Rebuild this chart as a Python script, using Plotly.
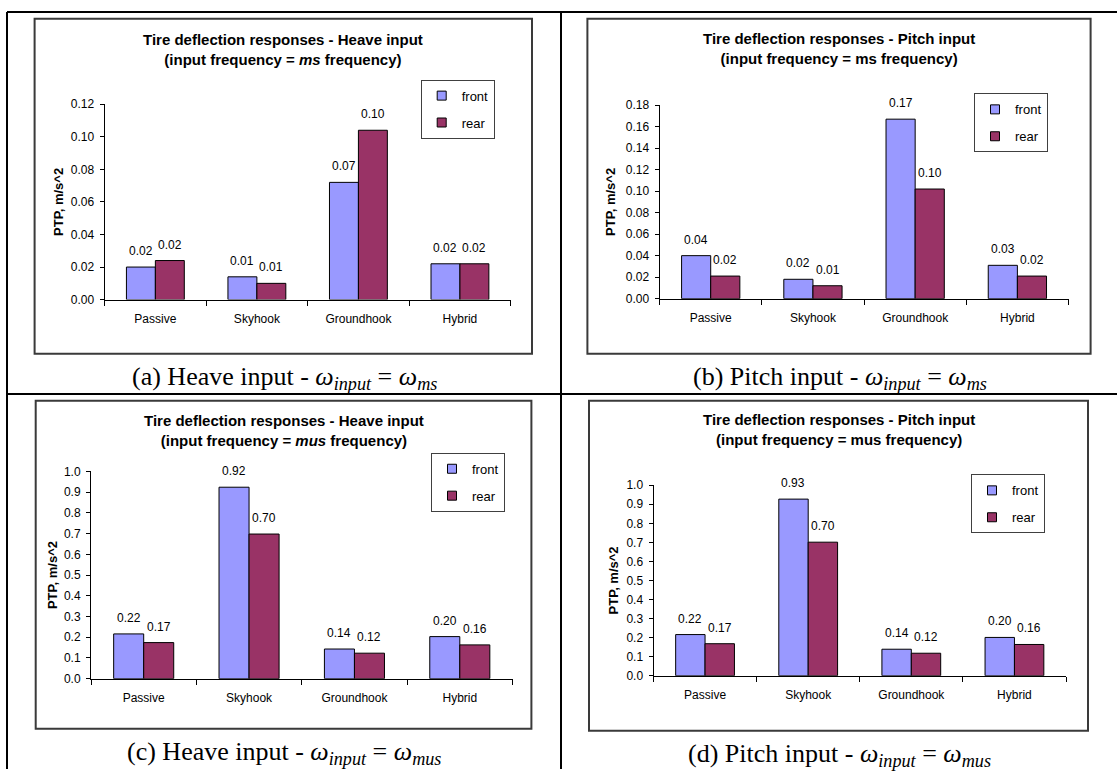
import plotly.graph_objects as go

FIG_W, FIG_H = 1117, 776

categories = ["Passive", "Skyhook", "Groundhook", "Hybrid"]
series_names = ["front", "rear"]

# Peak-to-peak tire deflection, heave input at sprung-mass (ms) frequency
heave_ms_front = [0.020, 0.014, 0.072, 0.022]
heave_ms_rear = [0.024, 0.010, 0.104, 0.022]
# Pitch input at sprung-mass (ms) frequency
pitch_ms_front = [0.040, 0.018, 0.167, 0.031]
pitch_ms_rear = [0.021, 0.012, 0.102, 0.021]
# Heave input at unsprung-mass (mus) frequency
heave_mus_front = [0.216, 0.924, 0.143, 0.203]
heave_mus_rear = [0.174, 0.698, 0.123, 0.163]
# Pitch input at unsprung-mass (mus) frequency
pitch_mus_front = [0.216, 0.927, 0.139, 0.201]
pitch_mus_rear = [0.168, 0.701, 0.118, 0.164]

ticks_heave_ms = [0.00, 0.02, 0.04, 0.06, 0.08, 0.10, 0.12]
ticks_pitch_ms = [0.00, 0.02, 0.04, 0.06, 0.08, 0.10, 0.12, 0.14, 0.16, 0.18]
ticks_mus = [0.0, 0.1, 0.2, 0.3, 0.4, 0.5, 0.6, 0.7, 0.8, 0.9, 1.0]

y_title = "PTP, m/s^2"

FRONT_COLOR = "#9999FF"
REAR_COLOR = "#993366"
BAR_GAP = 0.43
SANS = "Liberation Sans, Arial, sans-serif"
SERIF = "Liberation Serif, Times New Roman, serif"


def px(x):
    return x / FIG_W


def py(y):
    return 1 - y / FIG_H


panels = [
    dict(front=heave_ms_front, rear=heave_ms_rear, ticks=ticks_heave_ms, fmt=".2f",
         title="<b>Tire deflection responses - Heave input<br>(input frequency = <i>ms</i> frequency)</b>",
         caption="(a) Heave input - <i>ω<sub>input</sub></i> = <i>ω<sub>ms</sub></i>",
         plot=(104.6, 99, 510.7, 298), box=(34.6, 12, 532, 353),
         legend=(420.7, 74), title_y=43, caption_xy=(284, 378), ytitle_x=59),
    dict(front=pitch_ms_front, rear=pitch_ms_rear, ticks=ticks_pitch_ms, fmt=".2f",
         title="<b>Tire deflection responses - Pitch input<br>(input frequency = ms frequency)</b>",
         caption="(b) Pitch input - <i>ω<sub>input</sub></i> = <i>ω<sub>ms</sub></i>",
         plot=(659.6, 100, 1068.5, 297), box=(587.4, 12, 1090.6, 353),
         legend=(974, 88), title_y=42, caption_xy=(840, 378), ytitle_x=611),
    dict(front=heave_mus_front, rear=heave_mus_rear, ticks=ticks_mus, fmt=".1f",
         title="<b>Tire deflection responses - Heave input<br>(input frequency = <i>mus</i> frequency)</b>",
         caption="(c) Heave input - <i>ω<sub>input</sub></i> = <i>ω<sub>mus</sub></i>",
         plot=(91, 473, 512.5, 684), box=(35.7, 401, 531.4, 735),
         legend=(431, 454), title_y=431, caption_xy=(284, 760), ytitle_x=52),
    dict(front=pitch_mus_front, rear=pitch_mus_rear, ticks=ticks_mus, fmt=".1f",
         title="<b>Tire deflection responses - Pitch input<br>(input frequency = mus frequency)</b>",
         caption="(d) Pitch input - <i>ω<sub>input</sub></i> = <i>ω<sub>mus</sub></i>",
         plot=(653.5, 487, 1066, 681), box=(589, 401, 1088, 737),
         legend=(971, 476), title_y=430.5, caption_xy=(839, 762), ytitle_x=613),
]

fig = go.Figure()
annotations = []
shapes = []
layout_axes = {}

# table grid lines
for x0, y0, x1, y1 in [(7, 5, 1117, 5), (7, 5, 7, 776), (561, 5, 561, 776), (7, 394, 1117, 394)]:
    shapes.append(dict(type="line", xref="paper", yref="paper",
                       x0=px(x0), y0=py(y0), x1=px(x1), y1=py(y1),
                       line=dict(color="black", width=2)))

positions = list(range(len(categories)))
boundaries = [k - 0.5 for k in range(len(categories) + 1)]
offset = (1 - BAR_GAP) / 4

for i, p in enumerate(panels, start=1):
    sfx = "" if i == 1 else str(i)
    xa, ya = "x" + sfx, "y" + sfx
    leg = "legend" + sfx
    x0, y0, x1, y1 = p["plot"]

    for name, vals, color, shift in [("front", p["front"], FRONT_COLOR, -offset),
                                     ("rear", p["rear"], REAR_COLOR, offset)]:
        fig.add_trace(go.Bar(
            x=positions, y=vals, name=name, xaxis=xa, yaxis=ya,
            marker=dict(color=color, line=dict(color="black", width=1)),
            showlegend=False, hoverinfo="skip"))
        # legend swatch
        fig.add_trace(go.Scatter(
            x=[None], y=[None], mode="markers", name=name, xaxis=xa, yaxis=ya,
            legend=leg, legendgroup=name,
            marker=dict(symbol="square", size=9, color=color,
                        line=dict(color="black", width=1))))
        for k, v in enumerate(vals):
            annotations.append(dict(
                x=positions[k] + shift, y=v, xref=xa, yref=ya, text=f"{v:.2f}",
                showarrow=False, yshift=16,
                font=dict(family=SANS, size=12, color="black")))

    layout_axes["xaxis" + sfx] = dict(
        domain=[px(x0), px(x1)], anchor=ya, range=[-0.5, len(categories) - 0.5],
        tickmode="array", tickvals=positions, ticktext=categories, ticks="",
        minor=dict(tickmode="array", tickvals=boundaries, ticks="outside",
                   ticklen=5, tickcolor="black", tickwidth=1, showgrid=False),
        showline=True, linecolor="black", linewidth=1,
        showgrid=False, zeroline=False,
        tickfont=dict(family=SANS, size=12, color="black"),
        ticklabelstandoff=8, fixedrange=True)
    layout_axes["yaxis" + sfx] = dict(
        domain=[py(y1), py(y0)], anchor=xa, range=[0, p["ticks"][-1]],
        tickvals=p["ticks"], tickformat=p["fmt"],
        showline=True, linecolor="black", linewidth=1,
        ticks="outside", ticklen=4, tickcolor="black", tickwidth=1,
        showgrid=False, zeroline=False,
        tickfont=dict(family=SANS, size=12, color="black"),
        ticklabelstandoff=3, fixedrange=True)

    lx, ly = p["legend"]
    layout_axes[leg] = dict(
        x=px(lx), y=py(ly), xanchor="left", yanchor="top",
        xref="paper", yref="paper",
        bgcolor="white", bordercolor="#404040", borderwidth=1,
        font=dict(family=SANS, size=13, color="black"),
        traceorder="grouped", tracegroupgap=7, itemclick=False)

    bx0, by0, bx1, by1 = p["box"]
    shapes.append(dict(type="rect", xref="paper", yref="paper",
                       x0=px(bx0), y0=py(by1), x1=px(bx1), y1=py(by0),
                       line=dict(color="#3a3a3a", width=2), layer="below"))

    annotations.append(dict(
        x=px((bx0 + bx1) / 2), y=py(p["title_y"]), xref="paper", yref="paper",
        text=p["title"], showarrow=False, xanchor="center", yanchor="middle",
        font=dict(family=SANS, size=15, color="black")))
    annotations.append(dict(
        x=px(p["ytitle_x"]), y=py((y0 + y1) / 2), xref="paper", yref="paper",
        text="<b>" + y_title + "</b>", textangle=-90, showarrow=False,
        xanchor="center", yanchor="middle",
        font=dict(family=SANS, size=13, color="black")))
    cx, cy = p["caption_xy"]
    annotations.append(dict(
        x=px(cx), y=py(cy), xref="paper", yref="paper", text=p["caption"],
        showarrow=False, xanchor="center", yanchor="middle",
        font=dict(family=SERIF, size=26, color="black")))

fig.update_layout(
    width=FIG_W, height=FIG_H, autosize=False,
    margin=dict(l=0, r=0, t=0, b=0),
    paper_bgcolor="white", plot_bgcolor="white",
    barmode="group", bargap=BAR_GAP, bargroupgap=0,
    font=dict(family=SANS, color="black"),
    shapes=shapes, annotations=annotations,
    **layout_axes)

fig.write_html("out.html", config={"displayModeBar": False})
